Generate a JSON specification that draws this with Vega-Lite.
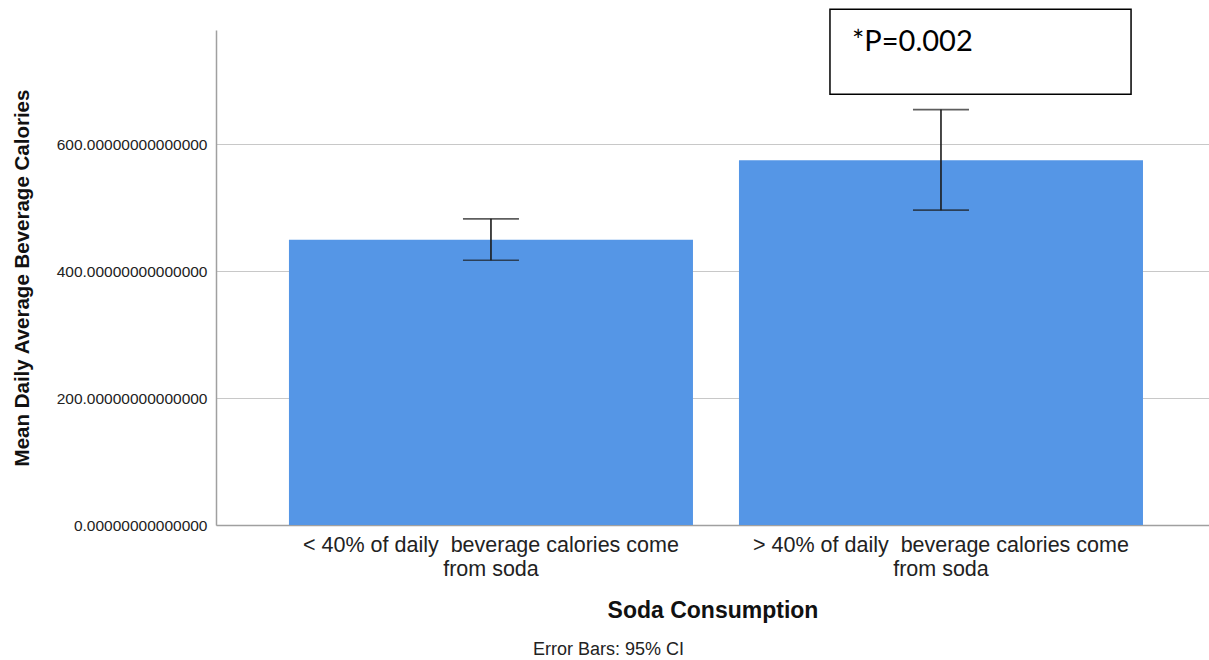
{
  "$schema": "https://vega.github.io/schema/vega-lite/v6.json",
  "width": 993,
  "height": 495,
  "autosize": {"type": "none"},
  "padding": {"left": 216, "top": 30, "right": 0, "bottom": 135},
  "background": "white",
  "config": {"view": {"stroke": null}, "font": "Liberation Sans"},
  "title": {
    "text": "Error Bars: 95% CI",
    "orient": "bottom",
    "anchor": "middle",
    "frame": "group",
    "dx": -104,
    "offset": 19,
    "fontSize": 18,
    "fontWeight": "normal",
    "font": "Liberation Sans",
    "color": "#222222"
  },
  "data": {
    "values": [
      {"group": "< 40% of daily\u00a0 beverage calories come\nfrom soda", "mean": 449.5, "lo": 417.3, "hi": 482.4},
      {"group": "> 40% of daily\u00a0 beverage calories come\nfrom soda", "mean": 574.8, "lo": 496.1, "hi": 654.6}
    ]
  },
  "layer": [
    {
      "layer": [
        {
          "mark": {"type": "bar", "color": "#5596E6"},
          "encoding": {
            "x": {
              "field": "group",
              "type": "nominal",
              "sort": null,
              "scale": {"paddingInner": 0.1022, "paddingOuter": 0.1544, "align": 0.525},
              "axis": {
                "title": "Soda Consumption",
                "labelAngle": 0,
                "labelExpr": "split(datum.value, '\\n')",
                "labelFontSize": 21.5,
                "labelLineHeight": 24,
                "labelColor": "#222222",
                "labelPadding": 26,
                "labelBaseline": "alphabetic",
                "labelLimit": 800,
                "ticks": false,
                "tickSize": 0,
                "domainColor": "#a0a0a0",
                "domainWidth": 1.5,
                "grid": false,
                "titleFontSize": 23,
                "titleFontWeight": "bold",
                "titleColor": "#111111",
                "titleY": 92,
                "titleBaseline": "alphabetic"
              }
            },
            "y": {
              "field": "mean",
              "type": "quantitative",
              "title": "Mean Daily Average Beverage Calories",
              "scale": {"domain": [0, 780], "nice": false},
              "axis": {
                "values": [0, 200, 400, 600],
                "format": ".14f",
                "labelFontSize": 15.5,
                "labelColor": "#222222",
                "labelPadding": 9,
                "ticks": false,
                "tickSize": 0,
                "domainColor": "#a0a0a0",
                "domainWidth": 1.5,
                "gridColor": "#c8c8c8",
                "gridWidth": 1,
                "titleFontSize": 20.5,
                "titleFontWeight": "bold",
                "titleColor": "#111111",
                "titleX": -188,
                "titleY": 247.5,
                "titleAngle": 270,
                "titleAlign": "center",
                "titleBaseline": "alphabetic"
              }
            }
          }
        },
        {
          "mark": {"type": "rule", "color": "#1a1a1a", "strokeWidth": 1.6},
          "encoding": {
            "x": {"field": "group", "type": "nominal", "sort": null},
            "y": {"field": "lo", "type": "quantitative", "title": "Mean Daily Average Beverage Calories"},
            "y2": {"field": "hi"}
          }
        },
        {
          "mark": {"type": "tick", "color": "#1a1a1a", "thickness": 1.6, "size": 56},
          "encoding": {
            "x": {"field": "group", "type": "nominal", "sort": null},
            "y": {"field": "lo", "type": "quantitative", "title": "Mean Daily Average Beverage Calories"}
          }
        },
        {
          "mark": {"type": "tick", "color": "#1a1a1a", "thickness": 1.6, "size": 56},
          "encoding": {
            "x": {"field": "group", "type": "nominal", "sort": null},
            "y": {"field": "hi", "type": "quantitative", "title": "Mean Daily Average Beverage Calories"}
          }
        }
      ]
    },
    {
      "data": {"values": [{"note": "*P=0.002"}]},
      "layer": [
        {
          "mark": {"type": "rect", "fill": "white", "stroke": "black", "strokeWidth": 1.5},
          "encoding": {
            "x": {"datum": 0.6183, "type": "quantitative", "scale": {"domain": [0, 1], "nice": false, "zero": false}, "axis": null},
            "x2": {"datum": 0.9215},
            "y": {"datum": 812.6, "type": "quantitative", "scale": {"domain": [0, 780], "nice": false}, "title": "Mean Daily Average Beverage Calories"},
            "y2": {"datum": 678.7}
          }
        },
        {
          "mark": {"type": "text", "font": "Lato", "fontSize": 29, "align": "left", "baseline": "alphabetic", "color": "black"},
          "encoding": {
            "text": {"field": "note"},
            "x": {"datum": 0.6405, "type": "quantitative", "scale": {"domain": [0, 1], "nice": false, "zero": false}, "axis": null},
            "y": {"datum": 746.5, "type": "quantitative", "scale": {"domain": [0, 780], "nice": false}, "title": "Mean Daily Average Beverage Calories"}
          }
        }
      ]
    }
  ],
  "resolve": {"scale": {"x": "independent"}}
}
